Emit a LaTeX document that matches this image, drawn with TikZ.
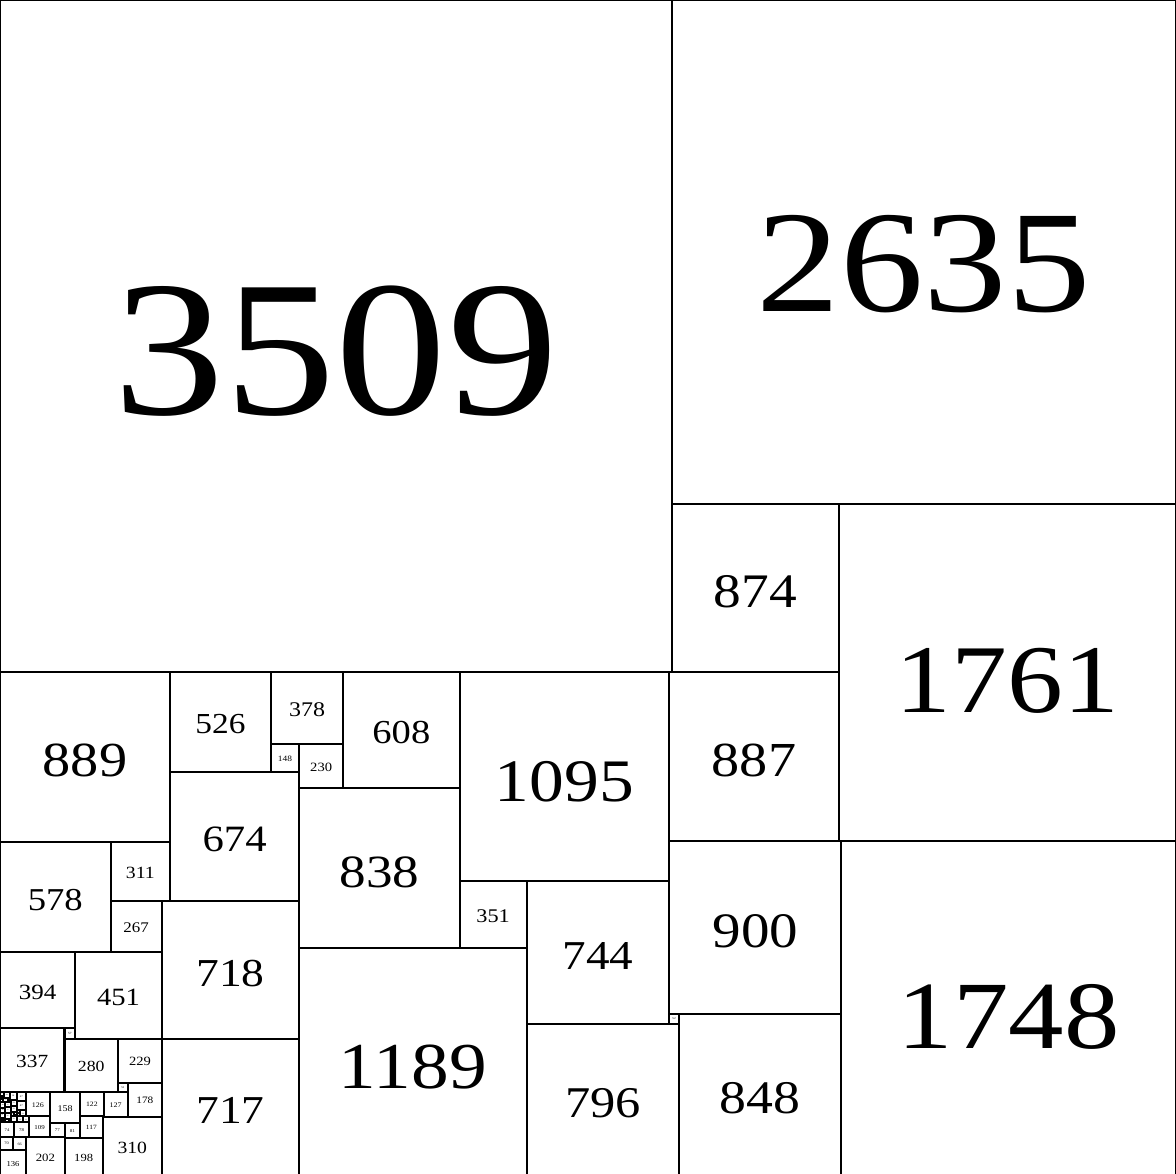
\documentclass[tikz,border=0pt]{standalone}
\usepackage{fontspec}
\setmainfont{Liberation Serif}[FakeStretch=1.15]
\tikzset{
  tile/.style={draw=black, line width=1.5pt, inner sep=0pt, outer sep=0pt, text depth=0pt},
}

\begin{document}
\begin{tikzpicture}[x=0.005cm, y=-0.005cm]
\useasboundingbox (0,0) rectangle (6144,6131);
% squares: size/left/top
\foreach \s/\x/\y in {3509/0/0, 2635/3509/0, 874/3509/2635, 1761/4383/2635,
    887/3496/3509, 1095/2401/3509, 608/1793/3509, 378/1415/3509, 526/889/3509,
    889/0/3509, 148/1415/3887, 230/1563/3887, 674/889/4035, 838/1563/4117,
    900/3496/4396, 1748/4396/4396, 578/0/4398, 311/578/4398, 351/2401/4604,
    744/2752/4604, 718/845/4709, 267/578/4709, 1189/1563/4955, 394/0/4976,
    451/394/4976, 52/3496/5296, 848/3548/5296, 796/2752/5348, 337/0/5370,
    57/337/5370, 280/337/5427, 229/617/5427, 717/846/5427, 51/617/5656,
    178/668/5656, 126/135/5707, 158/261/5707, 122/419/5707, 127/541/5707,
    5/536/5829, 117/419/5829, 310/536/5834, 109/152/5833, 74/0/5864,
    78/74/5864, 77/261/5865, 81/338/5865, 4/70/5938, 70/0/5938,
    202/136/5942, 66/70/5942, 198/338/5946, 136/0/6008}{
  \pgfmathsetlengthmacro\tsz{\s*0.005cm}
  \pgfmathsetlengthmacro\tht{\s*0.005cm*0.235}
  \pgfmathsetlengthmacro\tfs{max(\s*0.005cm*0.288,0.3pt)}
  \node[tile, minimum width=\tsz, minimum height=\tsz, text height=\tht,
        font={\fontsize{\tfs}{\tfs}\selectfont}] (t\s) at (\x+\s/2, \y+\s/2) {\s};
}
% small squares in the corner: left/top/width/height/label
\foreach \x/\y/\w/\h/\n [count=\i] in {0/0/21/21/21, 21/0/29/29/29, 50/0/38/38/38,
    88/0/47/47/47, 13/21/8/8/8, 0/21/13/13/13, 13/29/5/5/5, 41/29/9/9/9,
    18/29/23/23/23, 0/34/18/18/18, 41/38/14/14/14, 55/38/33/33/33,
    88/47/47/47/47, 103/94/32/32/32, 88/94/15/15/15, 88/109/15/17/16,
    121/126/31/31/31, 88/126/33/31/32, 55/71/33/33/33, 55/104/20/20/20,
    75/104/13/13/13, 75/117/7/7/7, 82/117/6/7/6, 55/124/33/33/33,
    0/52/28/28/28, 28/52/27/27/27, 0/80/28/27/28, 28/79/27/28/27,
    0/107/25/25/25, 25/107/30/30/30, 0/132/13/13/13, 13/132/12/13/12,
    0/145/12/12/12, 12/145/13/12/13, 25/137/20/20/20, 45/137/10/10/10,
    45/147/10/10/10}{
  \pgfmathsetlengthmacro\tw{\w*0.005cm}
  \pgfmathsetlengthmacro\tsz{\h*0.005cm}
  \pgfmathsetlengthmacro\tht{\n*0.005cm*0.235}
  \pgfmathsetlengthmacro\tfs{max(\n*0.005cm*0.288,0.3pt)}
  \node[tile, minimum width=\tw, minimum height=\tsz, text height=\tht,
        font={\fontsize{\tfs}{\tfs}\selectfont}] (c\i) at (\x+\w/2, 5707+\y+\h/2) {\n};
}
\end{tikzpicture}
\end{document}
